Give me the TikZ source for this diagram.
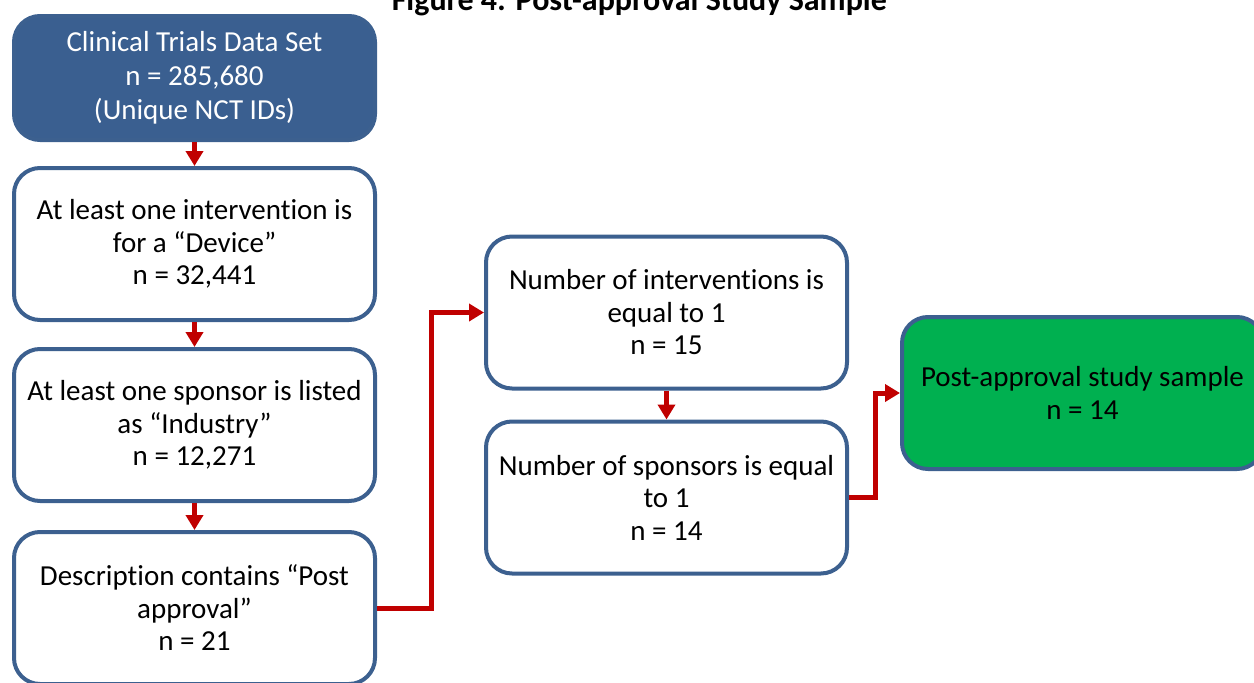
\documentclass[tikz,border=0pt]{standalone}
\usepackage{fontspec}
\setmainfont{Carlito}[Ligatures=NoCommon]
\usetikzlibrary{arrows.meta}
\definecolor{boxblue}{RGB}{58,95,144}
\definecolor{lineblue}{RGB}{60,96,143}
\definecolor{arrowred}{RGB}{192,0,0}
\definecolor{samplegreen}{RGB}{0,176,80}
\tikzset{
  stepnode/.style={draw=lineblue, line width=4pt, rounded corners=26pt,
    minimum width=361pt, minimum height=152pt, inner sep=0pt,
    align=center, font=\fontsize{29pt}{32.5pt}\selectfont},
  flow/.style={arrowred, line width=5pt, -{Triangle[length=15pt,width=17pt]}},
}
\begin{document}
\begin{tikzpicture}[x=1pt, y=-1pt]
    \useasboundingbox (0,0) rectangle (1254,683);
    \node[anchor=base east, inner sep=0pt, font=\bfseries\fontsize{32pt}{38pt}\selectfont]
        (title) at (887,10) {Figure 4: Post-approval Study Sample};
    \node[stepnode, fill=boxblue, text=white, minimum height=124pt,
        font=\fontsize{29pt}{34pt}\selectfont] (src) at (194.5,78)
        {Clinical Trials Data Set\\n = 285,680\\(Unique NCT IDs)};
    \foreach \x/\y/\txt/\name in {
        194.5/244/{At least one intervention is\\for a “Device”\\n = 32,441}/dev,
        194.5/425/{At least one sponsor is listed\\as “Industry”\\n = 12,271}/ind,
        194.5/608/{Description contains “Post\\approval”\\n = 21}/post,
        666.5/312.5/{Number of interventions is\\equal to 1\\n = 15}/inter,
        666.5/497.5/{Number of sponsors is equal\\to 1\\n = 14}/spons} {
        \node[stepnode, fill=white] (\name) at (\x, \y) {\txt};
    }
    \node[stepnode, fill=samplegreen] (sample) at (1082.5,393)
        {Post-approval study sample\\n = 14};

    \draw[flow] (src) -- (dev);
    \draw[flow] (dev) -- (ind);
    \draw[flow] (ind) -- (post);
    \draw[flow] (inter) -- (spons);
    \draw[flow] (post.east) -- ++(54,0) |- (inter.west);
    \draw[flow] (spons.east) -- ++(26,0) |- (sample.west);
\end{tikzpicture}
\end{document}
